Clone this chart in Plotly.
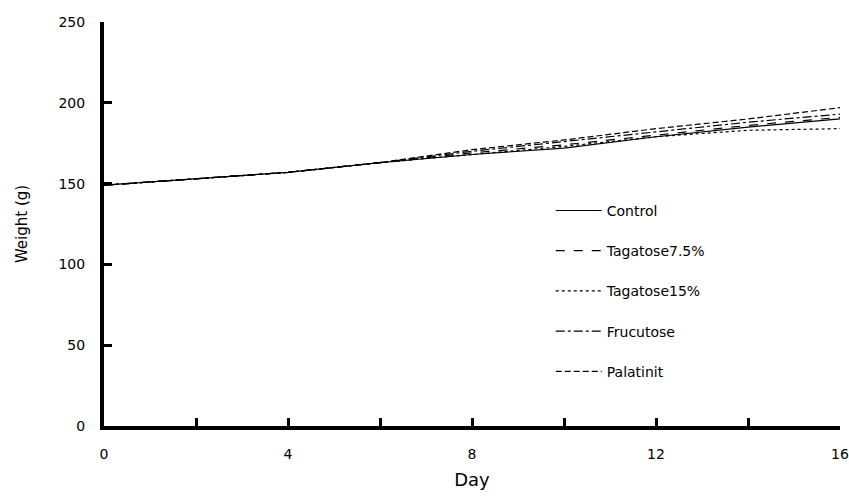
import plotly.graph_objects as go

days = [0, 2, 4, 6, 8, 10, 12, 14, 16]
control = [149, 153, 157, 163, 168, 172, 179, 185, 190]
tagatose75 = [149, 153, 157, 163, 169, 174, 180, 186, 191]
tagatose15 = [149, 153, 157, 163, 168, 173, 179, 183, 184]
frucutose = [149, 153, 157, 163, 170, 176, 182, 188, 193]
palatinit = [149, 153, 157, 163, 171, 177, 184, 190, 197]

series_names = ["Control", "Tagatose7.5%", "Tagatose15%", "Frucutose", "Palatinit"]
series_vals = [control, tagatose75, tagatose15, frucutose, palatinit]
dashes = ["solid", "dash", "dot", "dashdot", "6px,3px"]

x_ticks = [0, 4, 8, 12, 16]
y_ticks = [0, 50, 100, 150, 200, 250]

font = "DejaVu Sans, Liberation Sans, Arial, sans-serif"

fig = go.Figure()
for i, (n, v, d) in enumerate(zip(series_names, series_vals, dashes)):
    fig.add_trace(go.Scatter(
        x=days, y=v, mode="lines", name=n, legendgroup=f"g{i}",
        line=dict(color="black", width=1.2, dash=d),
    ))

fig.update_layout(
    width=849, height=496,
    margin=dict(l=104, r=9, t=22, b=70, autoexpand=False),
    paper_bgcolor="white", plot_bgcolor="white",
    font=dict(family=font, color="black", size=14),
    showlegend=True,
    legend=dict(
        x=0.607, y=0.572, xanchor="left", yanchor="top",
        bgcolor="rgba(0,0,0,0)", tracegroupgap=19,
        itemwidth=46, font=dict(size=14, family=font),
    ),
    xaxis=dict(
        range=[0, 16], tickvals=x_ticks, ticktext=[str(t) for t in x_ticks],
        showline=True, linewidth=4, linecolor="black", mirror=False,
        ticks="inside", ticklen=8, tickwidth=3, tickcolor="black",
        minor=dict(dtick=2, tick0=0, ticks="inside", ticklen=8, tickwidth=3, tickcolor="black"),
        showgrid=False, zeroline=False, automargin=False,
        ticklabelstandoff=12,
        tickfont=dict(size=14, family=font),
        title=dict(text="Day", font=dict(size=18, family=font), standoff=14),
    ),
    yaxis=dict(
        range=[0, 250], tickvals=y_ticks,
        showline=True, linewidth=4, linecolor="black",
        ticks="inside", ticklen=8, tickwidth=3, tickcolor="black",
        showgrid=False, zeroline=False, automargin=False,
        ticklabelstandoff=12,
        tickfont=dict(size=14, family=font),
        title=dict(text="Weight (g)", font=dict(size=15, family=font), standoff=28),
    ),
)

fig.write_html("out.html")
